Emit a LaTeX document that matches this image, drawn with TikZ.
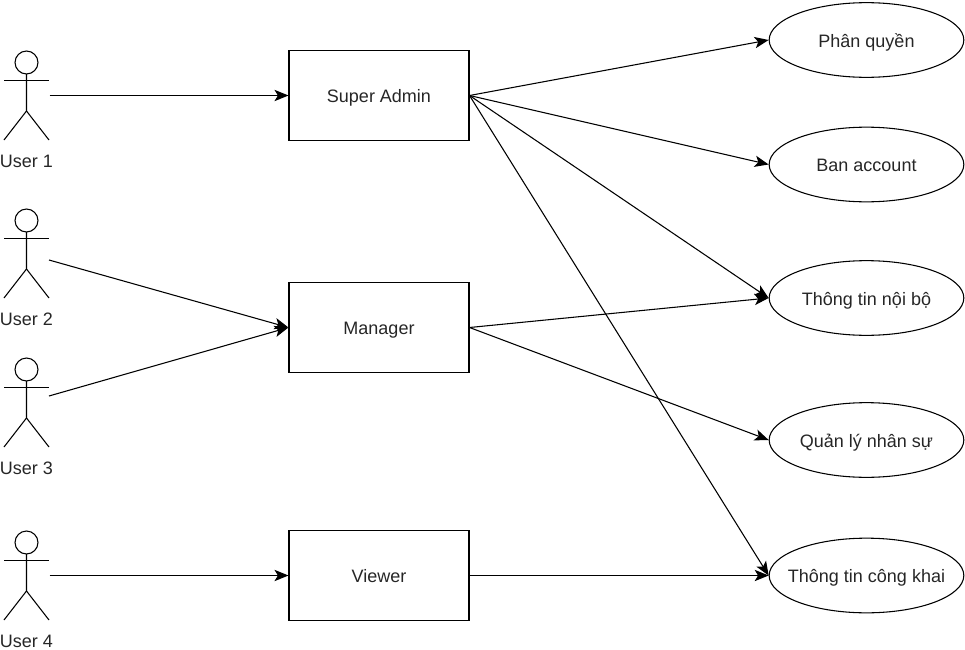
\documentclass[tikz,border=0pt]{standalone}
\usepackage{fontspec}
\setmainfont{Liberation Sans}
\usepackage{xcolor}
\usepackage{tikz}
\usetikzlibrary{shapes}
\usetikzlibrary{arrows.meta}
\tikzset{
  role node/.style={rectangle,draw,minimum width=135pt,minimum height=67.5pt,inner sep=0pt,text=black!85},
  task node/.style={ellipse,draw,minimum width=146pt,minimum height=56pt,inner sep=0pt,
    label={[text=black!85]center:#1}},
  actor node/.style={rectangle,minimum width=33.75pt,minimum height=66.75pt,inner sep=0pt},
  link/.style={-{Stealth[length=10.5pt,width=8.5pt,inset=2.6pt]},line width=0.8pt}
}

\begin{document}
\begin{tikzpicture}[x=0.75pt,y=-0.75pt,line width=0.8pt,
			    every node/.style={font=\fontsize{13.5}{16}\selectfont,text height=12pt,text depth=1pt}]
			    \useasboundingbox (0,0) rectangle (965,650);
			    % actors
			    \foreach \idx/\top in {1/51,2/209,3/358,4/531} {
			      \node [actor node] (u\idx) at (26.5,\top+44.5) {};
			      \draw (26.5,\top+11.5) circle [radius=8.6pt];
			      \draw (26.5,\top+23) -- (26.5,\top+60) -- (4,\top+89);
			      \draw (26.5,\top+60) -- (49,\top+89);
			      \draw (4,\top+29.5) -- (49,\top+29.5);
			      \node [text=black!85] (t\idx) at (26.5,\top+109) {User \idx};
			    }
			    \coordinate (s2) at (49,260);
			    \coordinate (s3) at (49,396);
			    % roles
			    \node [role node] (admin) at (379,95.5) {Super Admin};
			    \node [role node] (manager) at (379,327.5) {Manager};
			    \node [role node] (viewer) at (379,575.5) {Viewer};
			    % tasks
			    \node [task node={Phân quyền}] (perm) at (866.5,40) {};
			    \node [task node={Ban account}] (ban) at (866.5,164.5) {};
			    \node [task node={Thông tin nội bộ}] (inner) at (866.5,298) {};
			    \node [task node={Quản lý nhân sự}] (staff) at (866.5,440) {};
			    \node [task node={Thông tin công khai}] (public) at (866.5,575.5) {};
			    % links
			    \draw [link] (u1.east) -- (admin.west);
			    \draw [link] (s2) -- (manager.west);
			    \draw [link] (s3) -- (manager.west);
			    \draw [link] (u4.east) -- (viewer.west);
			    \foreach \goal in {perm,ban,inner,public}
			      \draw [link] (admin.east) -- (\goal.west);
			    \foreach \goal in {inner,staff}
			      \draw [link] (manager.east) -- (\goal.west);
			    \draw [link] (viewer.east) -- (public.west);
			  \end{tikzpicture}
\end{document}
